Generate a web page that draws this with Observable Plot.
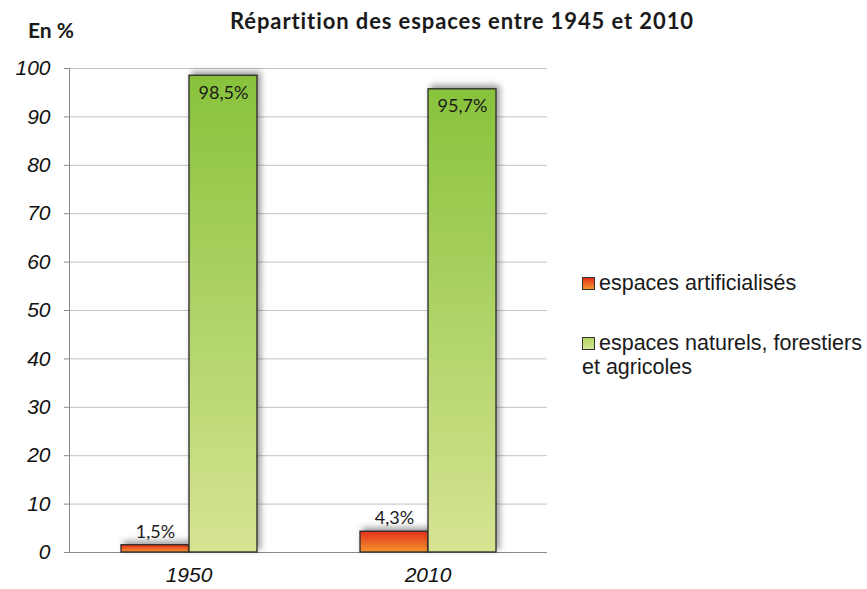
<!DOCTYPE html>
<html><head><meta charset="utf-8">
<script src="https://cdn.jsdelivr.net/npm/d3@7"></script>
<script src="https://cdn.jsdelivr.net/npm/@observablehq/plot@0.6"></script>
<style>
body{margin:0;background:#fff;}
#wrap{position:relative;width:867px;height:589px;overflow:hidden;}
#chart{position:absolute;left:0;top:0;}
#title{position:absolute;left:230px;top:7px;font-family:Lato,"Open Sans",sans-serif;font-weight:bold;font-size:22px;letter-spacing:0.9px;color:#1a1a1a;white-space:nowrap;}
#unit{position:absolute;left:28px;top:17px;font-family:Lato,"Open Sans",sans-serif;font-weight:bold;font-size:21px;color:#1a1a1a;}
.leg{position:absolute;left:582px;font-family:"Liberation Sans",Arial,sans-serif;font-size:21.5px;color:#1a1a1a;white-space:nowrap;line-height:24px;}
.sw{display:inline-block;width:11px;height:11px;border:1px solid #333;margin-right:4px;vertical-align:0px;}
g[aria-label="y-axis tick label"] text, g[aria-label="fx-axis tick label"] text{font-style:italic;}
</style></head><body>
<div id="wrap">
<div id="chart"></div>
<div id="title">Répartition des espaces entre 1945 et 2010</div>
<div id="unit">En %</div>
</div>
<script>
const years = ["1950", "2010"];
const series = ["espaces artificialisés", "espaces naturels, forestiers et agricoles"];
const artificialises = [1.5, 4.3];
const naturels = [98.5, 95.7];
const labelsArt = ["1,5%", "4,3%"];
const labelsNat = ["98,5%", "95,7%"];
const yTicks = [0, 10, 20, 30, 40, 50, 60, 70, 80, 90, 100];
const legendLines = [["espaces artificialisés"], ["espaces naturels, forestiers", "et agricoles"]];

const rowsArt = years.map((y, i) => ({year: y, serie: series[0], value: artificialises[i], label: labelsArt[i]}));
const rowsNat = years.map((y, i) => ({year: y, serie: series[1], value: naturels[i], label: labelsNat[i]}));

const defs = () => {
  const d = d3.create("svg:defs");
  const g1 = d.append("linearGradient").attr("id", "gradArt").attr("x1", 0).attr("y1", 0).attr("x2", 0).attr("y2", 1);
  g1.append("stop").attr("offset", "0%").attr("stop-color", "#e5301b");
  g1.append("stop").attr("offset", "100%").attr("stop-color", "#f3952d");
  const g2 = d.append("linearGradient").attr("id", "gradNat").attr("x1", 0).attr("y1", 0).attr("x2", 0).attr("y2", 1);
  g2.append("stop").attr("offset", "0%").attr("stop-color", "#88c23c");
  g2.append("stop").attr("offset", "100%").attr("stop-color", "#d6e492");
  return d.node();
};

const labelFont = {fontFamily: "Lato, 'Open Sans', sans-serif", fontSize: 18, fill: "#1a1a1a"};
const shadow = "drop-shadow(3px -3px 3px rgba(0,0,0,0.4))";

const chart = Plot.plot({
  width: 867, height: 589,
  marginLeft: 68, marginRight: 320, marginTop: 68, marginBottom: 37,
  style: {fontFamily: "'Liberation Sans', Arial, sans-serif", fontSize: "21px", color: "#111", background: "transparent", overflow: "visible"},
  fx: {domain: years, padding: 0, label: null},
  x: {domain: series, axis: null, paddingInner: 0, paddingOuter: 0.753},
  y: {domain: [0, 100], axis: null},
  marks: [
    defs,
    Plot.gridY(yTicks, {stroke: "#c4c4c4", strokeOpacity: 1}),
    Plot.frame({anchor: "left", facetAnchor: "left", stroke: "#8a8a8a"}),
    Plot.ruleY([0], {stroke: "#8a8a8a"}),
    Plot.axisY(yTicks, {tickSize: 5, tickPadding: 14, label: null, stroke: "#8a8a8a", fill: "#111"}),
    Plot.axisFx({anchor: "bottom", tickSize: 0, tickPadding: 15, label: null, fill: "#111"}),
    Plot.barY(rowsArt, {fx: "year", x: "serie", y: "value", fill: "url(#gradArt)", stroke: "#2a2a2a", strokeWidth: 1.3, imageFilter: shadow}),
    Plot.barY(rowsNat, {fx: "year", x: "serie", y: "value", fill: "url(#gradNat)", stroke: "#2a2a2a", strokeWidth: 1.3, imageFilter: shadow}),
    Plot.text(rowsArt, {fx: "year", x: "serie", y: "value", text: "label", dy: -13, ...labelFont}),
    Plot.text(rowsNat, {fx: "year", x: "serie", y: "value", text: "label", dy: 17, ...labelFont})
  ]
});
document.getElementById("chart").appendChild(chart);

const wrap = document.getElementById("wrap");
const legTops = [271, 331];
const swFills = ["linear-gradient(#e5301b,#f3952d)", "linear-gradient(#b4d464,#d6e492)"];
legendLines.forEach((lines, i) => {
  const div = document.createElement("div");
  div.className = "leg";
  div.style.top = legTops[i] + "px";
  div.innerHTML = `<span class="sw" style="background:${swFills[i]}"></span>` + lines.join("<br>");
  wrap.appendChild(div);
});
</script>
</body></html>
